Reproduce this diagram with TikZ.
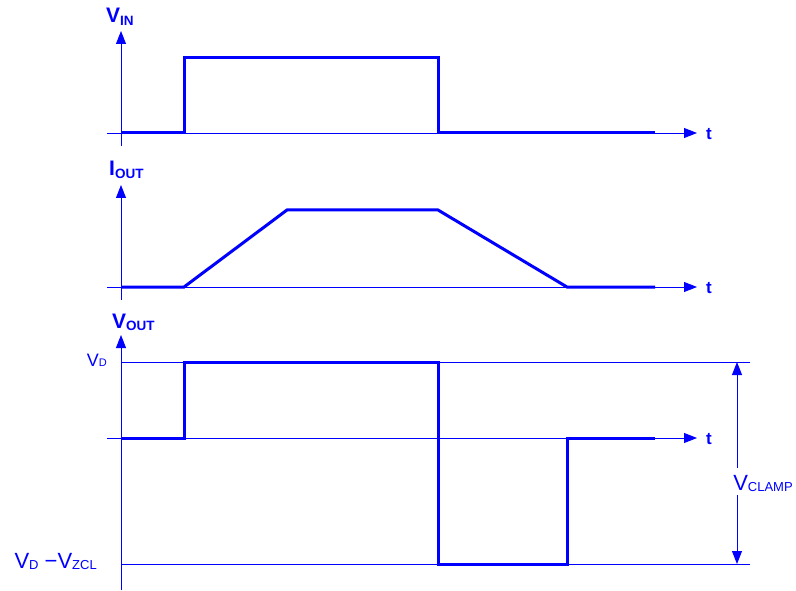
\documentclass[tikz,border=0pt]{standalone}
\usepackage{fontspec}
\setmainfont{Liberation Sans}
\usetikzlibrary{arrows.meta}
\definecolor{bl}{RGB}{0,0,255}
\newcommand{\lsub}[1]{\raisebox{-0.1ex}{\fontsize{13}{14}\selectfont #1}}
\newcommand{\lsubs}[1]{\raisebox{-0.1ex}{\fontsize{11}{12}\selectfont #1}}
\newcommand{\lsubb}[1]{\raisebox{-0.2ex}{\fontsize{13.5}{14}\selectfont\bfseries #1}}
\tikzset{
  thin line/.style={draw=bl, line width=0.9pt},
  axis arrow/.style={thin line, -{Triangle[length=13pt,width=10pt]}},
  signal/.style={draw=bl, line width=3pt, line join=miter},
  biglabel/.style={text=bl, font=\fontsize{21}{23}\selectfont\bfseries, inner sep=0pt},
  tlabel/.style={text=bl, font=\fontsize{17}{19}\selectfont\bfseries, inner sep=0pt},
  vlabel/.style={text=bl, font=\fontsize{18}{20}\selectfont, inner sep=0pt},
  vlabelbig/.style={text=bl, font=\fontsize{22}{24}\selectfont, inner sep=0pt},
  clamplabel/.style={text=bl, font=\fontsize{22}{24}\selectfont, inner sep=2pt, fill=white},
}
\begin{document}
\begin{tikzpicture}[x=1pt,y=-1pt]
\useasboundingbox (0,0) rectangle (796,591);
% ---------- panel 1 ----------
\coordinate (a1b) at (121,146);
\coordinate (a1t) at (121,31);
\coordinate (b1s) at (107,133);
\coordinate (b1e) at (697,133);
\draw[axis arrow] (a1b) -- (a1t);
\draw[axis arrow] (b1s) -- (b1e);
\node[biglabel, anchor=base west] (vin) at (106,23) {V\lsubb{IN}};
\node[tlabel, anchor=west] (t1) at (706,134) {t};
\draw[signal] (121,133) -- (184,133) -- (184,58) -- (438,58) -- (438,133) -- (655,133);
% ---------- panel 2 ----------
\coordinate (a2b) at (121,300);
\coordinate (a2t) at (121,185);
\coordinate (b2s) at (107,287);
\coordinate (b2e) at (697,287);
\draw[axis arrow] (a2b) -- (a2t);
\draw[axis arrow] (b2s) -- (b2e);
\node[biglabel, anchor=base west] (iout) at (109,176) {I\lsubb{OUT}};
\node[tlabel, anchor=west] (t2) at (706,288) {t};
\draw[signal] (121,287) -- (184,287) -- (287,210) -- (438,210) -- (567,287) -- (655,287);
% ---------- panel 3 ----------
\coordinate (a3b) at (121,590);
\coordinate (a3t) at (121,335);
\coordinate (b3s) at (107,438);
\coordinate (b3e) at (697,438);
\coordinate (vdl) at (121,362);
\coordinate (vdr) at (750,362);
\coordinate (vzl) at (121,564);
\coordinate (vzr) at (750,564);
\draw[axis arrow] (a3b) -- (a3t);
\draw[axis arrow] (b3s) -- (b3e);
\draw[thin line] (vdl) -- (vdr);
\draw[thin line] (vzl) -- (vzr);
\node[biglabel, anchor=base west] (vout) at (112,328) {V\lsubb{OUT}};
\node[tlabel, anchor=west] (t3) at (706,439) {t};
\node[vlabel, anchor=base east] (vd) at (107,366) {V\lsubs{D}};
\node[vlabelbig, anchor=base east] (vdz) at (97,568) {V\lsub{D} −V\lsub{ZCL}};
\draw[signal] (121,438) -- (184,438) -- (184,362) -- (438,362) -- (438,564) -- (567,564) -- (567,438) -- (655,438);
% clamp dimension
\coordinate (ct) at (737,362);
\coordinate (cb) at (737,564);
\node[clamplabel, anchor=base] (vclamp) at (763,490) {V\lsub{CLAMP}};
\draw[axis arrow] (737,468) -- (ct);
\draw[axis arrow] (737,495) -- (cb);
\end{tikzpicture}
\end{document}
